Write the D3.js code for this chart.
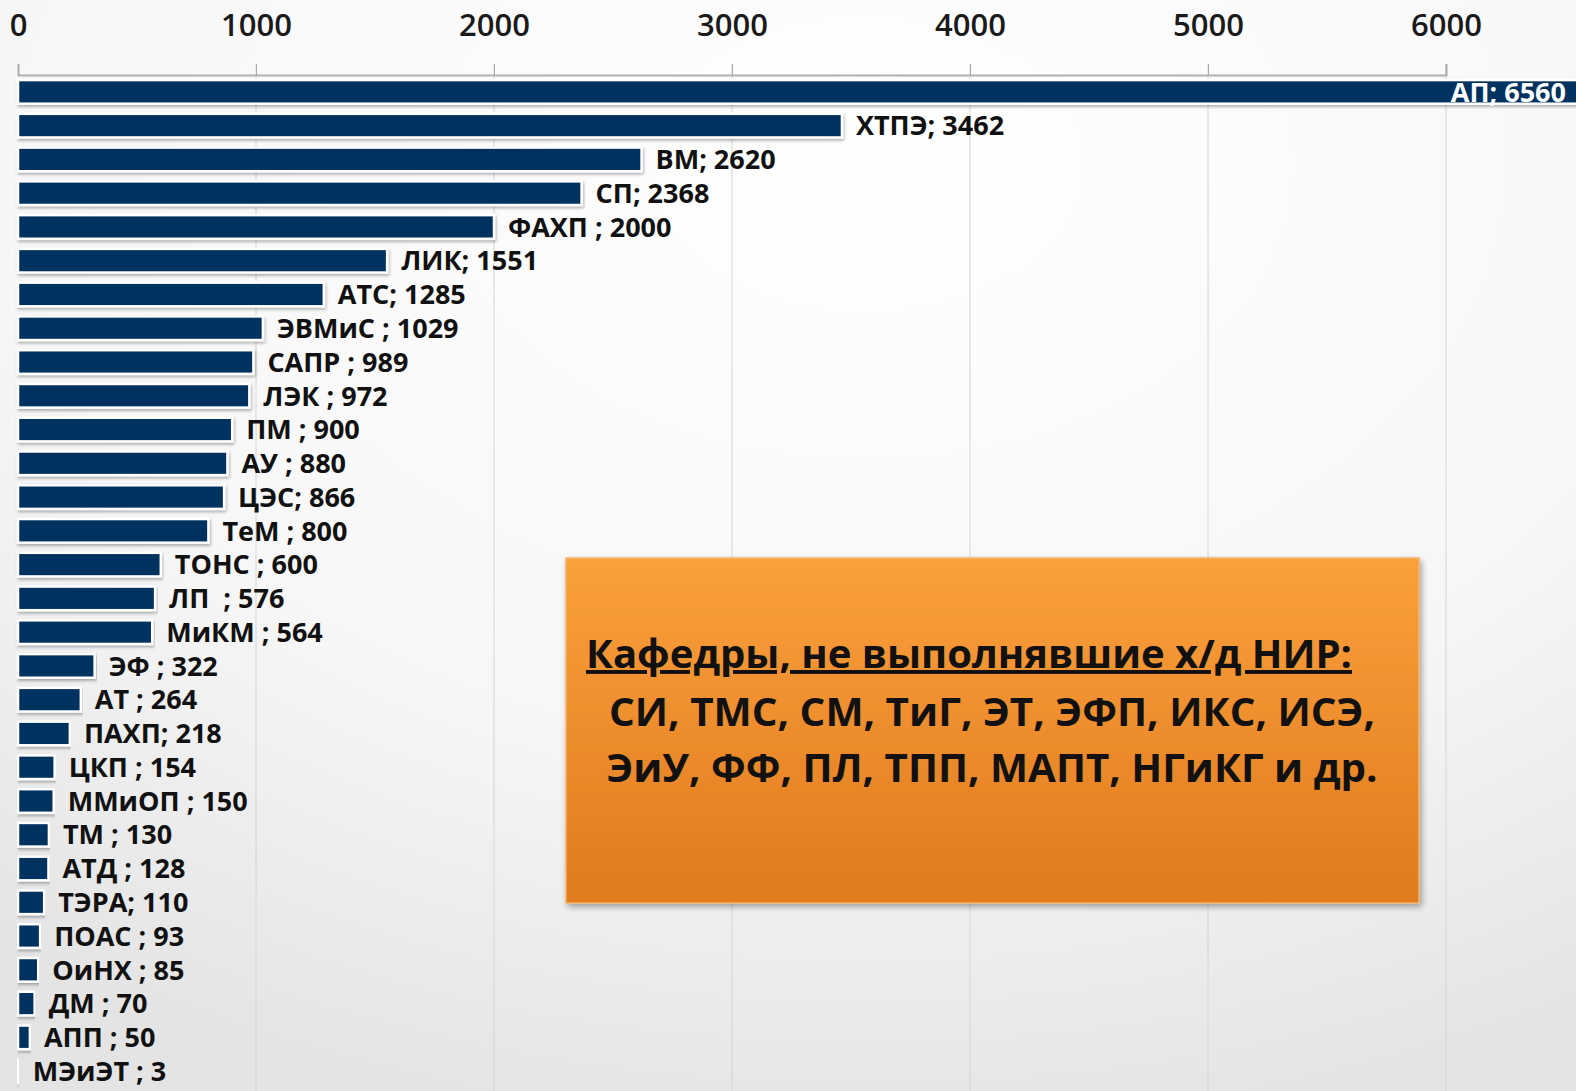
<!DOCTYPE html>
<html><head><meta charset="utf-8">
<script src="https://cdn.jsdelivr.net/npm/d3@7"></script>
<style>html,body{margin:0;padding:0;overflow:hidden;background:#fff}</style>
</head><body><svg id="c" width="1576" height="1091"></svg>
<script>
const categories = ["АП","ХТПЭ","ВМ","СП","ФАХП ","ЛИК","АТС","ЭВМиС ","САПР ","ЛЭК ","ПМ ","АУ ","ЦЭС","ТеМ ","ТОНС ","ЛП  ","МиКМ ","ЭФ ","АТ ","ПАХП","ЦКП ","ММиОП ","ТМ ","АТД ","ТЭРА","ПОАС ","ОиНХ ","ДМ ","АПП ","МЭиЭТ "];
const values = [6560,3462,2620,2368,2000,1551,1285,1029,989,972,900,880,866,800,600,576,564,322,264,218,154,150,130,128,110,93,85,70,50,3];
const tickValues = [0,1000,2000,3000,4000,5000,6000];
const noteTitle = "Кафедры, не выполнявшие х/д НИР:";
const noteLines = ["СИ, ТМС, СМ, ТиГ, ЭТ, ЭФП, ИКС, ИСЭ,","ЭиУ, ФФ, ПЛ, ТПП, МАПТ, НГиКГ и др."];

const svg = d3.select("#c");
const W = 1576, H = 1091;
const defs = svg.append("defs");
const bg = defs.append("radialGradient").attr("id","bg").attr("cx","55%").attr("cy","15%").attr("r","90%");
bg.append("stop").attr("offset","0%").attr("stop-color","#ffffff");
bg.append("stop").attr("offset","60%").attr("stop-color","#f7f7f7");
bg.append("stop").attr("offset","100%").attr("stop-color","#e4e4e4");
svg.append("rect").attr("width",W).attr("height",H).attr("fill","url(#bg)");

const og = defs.append("linearGradient").attr("id","og").attr("x1",0).attr("y1",0).attr("x2",0).attr("y2",1);
og.append("stop").attr("offset","0%").attr("stop-color","#fba03c");
og.append("stop").attr("offset","100%").attr("stop-color","#e07a1e");
const sh = defs.append("filter").attr("id","sh").attr("x","-5%").attr("y","-5%").attr("width","115%").attr("height","130%");
sh.append("feDropShadow").attr("dx",2).attr("dy",3).attr("stdDeviation",3).attr("flood-color","#000").attr("flood-opacity",0.35);
const bsh = defs.append("filter").attr("id","bsh").attr("x","-2%").attr("y","-20%").attr("width","104%").attr("height","160%");
bsh.append("feDropShadow").attr("dx",1).attr("dy",2).attr("stdDeviation",1.5).attr("flood-color","#000").attr("flood-opacity",0.3);

const x = d3.scaleLinear().domain([0,6000]).range([18,1446]);
const y = d3.scaleBand().domain(categories).range([75,1088]).paddingInner(0.3).paddingOuter(0.15);

// gridlines
svg.append("g").selectAll("line").data(tickValues.slice(1)).join("line")
  .attr("x1",d=>x(d)).attr("x2",d=>x(d)).attr("y1",64).attr("y2",H)
  .attr("stroke","#d4d4d4").attr("stroke-width",1);

// axis
const ax = svg.append("g").attr("transform","translate(0,75)")
  .call(d3.axisTop(x).tickValues(tickValues).tickSize(11).tickPadding(28).tickFormat(d3.format("d")));
ax.select(".domain").attr("stroke","#b0b0b0").attr("stroke-width",2);
ax.selectAll(".tick line").attr("stroke","#a8a8a8");
ax.selectAll("text").attr("font-family","'Open Sans', sans-serif").attr("font-size",31).attr("fill","#1a1a1a").attr("font-weight",600);

// bars
svg.append("g").selectAll("rect").data(values).join("rect")
  .attr("x",x(0)).attr("y",(d,i)=>y(categories[i]))
  .attr("width",d=>Math.max(0.5,x(d)-x(0))).attr("height",y.bandwidth())
  .attr("fill","#04335f").attr("stroke","#ffffff").attr("stroke-width",2.5)
  .attr("filter","url(#bsh)");

// labels
svg.append("g").selectAll("text").data(values).join("text")
  .attr("x",(d,i)=> i===0 ? W-10 : x(d)+14)
  .attr("y",(d,i)=>y(categories[i])+y.bandwidth()/2)
  .attr("dy","0.36em")
  .attr("text-anchor",(d,i)=> i===0 ? "end":"start")
  .attr("font-family","'Open Sans', sans-serif").attr("font-weight",700).attr("font-size",27)
  .attr("letter-spacing",0)
  .attr("fill",(d,i)=> i===0 ? "#ffffff" : "#111")
  .attr("xml:space","preserve")
  .style("white-space","pre")
  .text((d,i)=>categories[i]+"; "+d);

// note box
const bx=566, by=558, bw=853, bh=345;
svg.append("rect").attr("x",bx).attr("y",by).attr("width",bw).attr("height",bh)
  .attr("fill","url(#og)").attr("stroke","#f5b56a").attr("stroke-width",1.5).attr("filter","url(#sh)");
svg.append("text").attr("x",586).attr("y",668)
  .attr("font-family","'Open Sans', sans-serif").attr("font-weight",700).attr("font-size",39)
  .attr("fill","#111").attr("text-decoration","underline").attr("textLength",766).attr("lengthAdjust","spacingAndGlyphs")
  .text(noteTitle);
svg.append("g").selectAll("text").data(noteLines).join("text")
  .attr("x",992).attr("y",(d,i)=>726+i*56).attr("text-anchor","middle")
  .attr("font-family","'Open Sans', sans-serif").attr("font-weight",700).attr("font-size",40)
  .attr("fill","#111").attr("textLength",(d,i)=>i===0?766:771).attr("lengthAdjust","spacingAndGlyphs")
  .text(d=>d);
</script></body></html>
